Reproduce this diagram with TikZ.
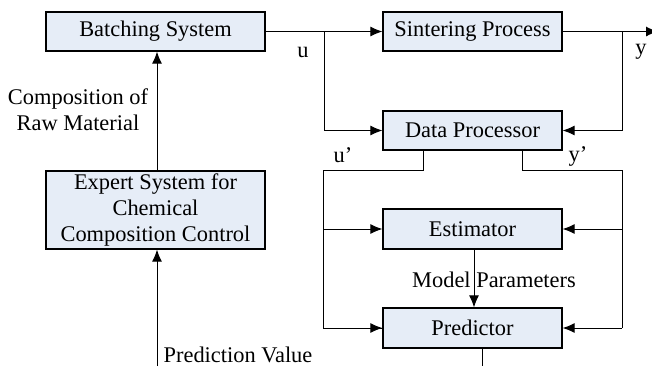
\documentclass[tikz,border=0pt]{standalone}
\usepackage{fontspec}
\setmainfont{Liberation Serif}
\usetikzlibrary{arrows.meta,positioning}
\definecolor{boxfill}{RGB}{230,237,247}
\tikzset{
  block/.style={draw, fill=boxfill, line width=0.6pt, inner sep=0pt, align=center},
  flow/.style={-{Latex[length=6pt,width=5pt]}, line width=0.5pt},
  wire/.style={line width=0.5pt},
}
\begin{document}
\begin{tikzpicture}[x=0.5pt, y=-0.5pt, font=\fontsize{11.2}{13.2}\selectfont]
        \clip (0, 0) rectangle (652, 366);
        % blocks
        \node[block, minimum width=109.5pt, minimum height=19.5pt] (batch) at (155.5, 31.5) {Batching System};
        \node[block, minimum width=109.5pt, minimum height=39pt] (expert) at (155.5, 210) {Expert System for\\Chemical\\Composition Control};
        \node[block, minimum width=89.5pt, minimum height=19.5pt] (sinter) at (472.5, 31.5) {Sintering Process};
        \node[block, minimum width=89.5pt, minimum height=19.5pt] (proc) at (472.5, 130.5) {Data Processor};
        \node[block, minimum width=89.5pt, minimum height=20pt] (est) at (472.5, 229) {Estimator};
        \node[block, minimum width=89.5pt, minimum height=20pt] (pred) at (472.5, 328) {Predictor};
        % branch points
        \coordinate (uj) at (324, 31.5);
        \coordinate (yj) at (622, 31.5);
        \coordinate (yout) at (658, 31.5);
        \coordinate (pin) at (157, 366);
        \coordinate (pout) at (482, 366);
        % main path
        \draw[flow] (batch.east) -- (sinter.west);
        \draw[flow] (sinter.east) -- (yout);
        \draw[flow] (uj) |- (proc.west);
        \draw[flow] (yj) |- (proc.east);
        \draw[flow] (expert.north -| 157, 0) -- (batch.south -| 157, 0);
        \draw[flow] (pin) -- (expert.south -| pin);
        % data processor outputs
        \draw[wire] (proc.south -| 423, 0) |- (323, 170) |- (pred.west);
        \draw[flow] (323, 229) -- (est.west);
        \draw[flow] (323, 328) -- (pred.west);
        \draw[wire] (proc.south -| 522, 0) |- (622, 170) -- (622, 328);
        \draw[flow] (622, 229) -- (est.east);
        \draw[flow] (622, 328) -- (pred.east);
        \draw[flow] (est.south -| 474, 0) -- (pred.north -| 474, 0);
        \draw[wire] (pred.south -| pout) -- (pout);
        % labels
        \node (lu) at (303, 52) {u};
        \node (ly) at (641, 52) {y};
        \node (lu2) at (343, 155) {u'};
        \node (ly2) at (578, 156) {y'};
        \node (lmp) at (494, 280) {Model Parameters};
        \node[align=center] (lraw) at (78, 110) {Composition of\\Raw Material};
        \node (lpv) at (238, 355) {Prediction Value};
      \end{tikzpicture}
\end{document}
